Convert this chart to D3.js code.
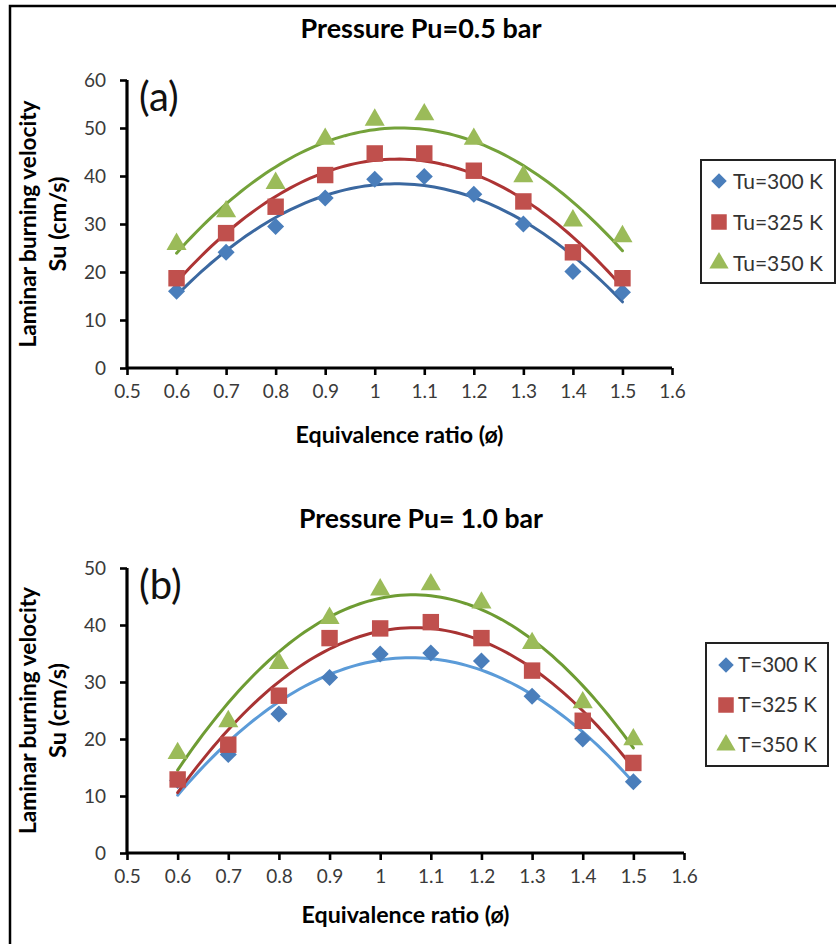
<!DOCTYPE html>
<html>
<head>
<meta charset="utf-8">
<script src="https://cdn.jsdelivr.net/npm/d3@7"></script>
<style>
  html, body { margin: 0; padding: 0; background: #fff; }
  svg { display: block; }
  text { font-family: Lato, "Open Sans", sans-serif; }
</style>
</head>
<body>
<svg id="chart" width="836" height="944"></svg>
<script>
// ---------- data ----------
const phi = [0.6, 0.7, 0.8, 0.9, 1.0, 1.1, 1.2, 1.3, 1.4, 1.5];
const xTicks = [0.5, 0.6, 0.7, 0.8, 0.9, 1, 1.1, 1.2, 1.3, 1.4, 1.5, 1.6];

// Panel (a): Pu = 0.5 bar
const titleA = "Pressure Pu=0.5 bar";
const yTicksA = [0, 10, 20, 30, 40, 50, 60];
const namesA = ["Tu=300 K", "Tu=325 K", "Tu=350 K"];
const a300 = [16.0, 24.1, 29.5, 35.4, 39.3, 39.9, 36.2, 30.0, 20.1, 15.8];
const a325 = [18.7, 28.1, 33.6, 40.2, 44.7, 44.7, 41.1, 34.7, 24.1, 18.7];
const a350 = [25.8, 32.6, 38.5, 47.7, 51.7, 52.8, 47.7, 39.9, 30.7, 27.4];

// Panel (b): Pu = 1.0 bar
const titleB = "Pressure Pu= 1.0 bar";
const yTicksB = [0, 10, 20, 30, 40, 50];
const namesB = ["T=300 K", "T=325 K", "T=350 K"];
const b300 = [12.7, 17.3, 24.4, 30.8, 34.9, 35.1, 33.7, 27.5, 20.0, 12.5];
const b325 = [12.9, 19.0, 27.6, 37.7, 39.4, 40.5, 37.7, 32.0, 23.2, 15.8];
const b350 = [17.5, 23.1, 33.3, 41.2, 46.2, 47.1, 43.9, 36.8, 26.4, 19.9];

const xLabel = "Equivalence ratio (ø)";
const yLabel1 = "Laminar burning velocity";
const yLabel2 = "Su (cm/s)";

// ---------- helpers ----------
const svg = d3.select("#chart");

// order-2 least squares polynomial (Excel-style trendline)
function polyFit2(xs, ys) {
  const n = xs.length;
  let s = [0,0,0,0,0], t = [0,0,0];
  for (let i = 0; i < n; i++) {
    const x = xs[i], y = ys[i];
    let p = 1;
    for (let k = 0; k <= 4; k++) { s[k] += p; if (k <= 2) t[k] += p * y; p *= x; }
  }
  const M = [[s[0], s[1], s[2], t[0]], [s[1], s[2], s[3], t[1]], [s[2], s[3], s[4], t[2]]];
  for (let i = 0; i < 3; i++) {
    for (let j = i + 1; j < 3; j++) {
      const f = M[j][i] / M[i][i];
      for (let k = i; k < 4; k++) M[j][k] -= f * M[i][k];
    }
  }
  const c = [0,0,0];
  for (let i = 2; i >= 0; i--) {
    let v = M[i][3];
    for (let k = i + 1; k < 3; k++) v -= M[i][k] * c[k];
    c[i] = v / M[i][i];
  }
  return x => c[0] + c[1] * x + c[2] * x * x;
}

function fitWidth(sel, target) {
  const node = sel.node();
  const fs = parseFloat(sel.attr("font-size"));
  const w = node.getComputedTextLength();
  if (w > 0) sel.attr("font-size", (fs * target / w).toFixed(2));
  return sel;
}

const markerColors = ["#4a7ebb", "#c0504d", "#9bbb59"];
const symbols = [d3.symbolSquare, d3.symbolSquare, d3.symbolTriangle];
const symSizes = [145, 270, 175];
const legSizes = [120, 240, 160];
const rotations = [45, 0, 0];

function panel(cfg) {
  const g = svg.append("g");
  const x = d3.scaleLinear().domain([0.5, 1.6]).range([cfg.x0, cfg.x1]);
  const y = d3.scaleLinear().domain([0, cfg.yMax]).range([cfg.yBot, cfg.yTop]);

  // title
  fitWidth(g.append("text")
    .attr("x", cfg.titleX).attr("y", cfg.titleY)
    .attr("text-anchor", "middle").attr("font-weight", "bold")
    .attr("font-size", 24).attr("fill", "#000")
    .text(cfg.title), cfg.titleW);

  // axes
  const xAxis = d3.axisBottom(x).tickValues(xTicks).tickSize(7).tickPadding(10)
    .tickFormat(d => String(+d.toFixed(1)));
  const gx = g.append("g").attr("transform", `translate(0,${cfg.yBot})`).call(xAxis);
  const yAxis = d3.axisLeft(y).tickValues(cfg.yTicks).tickSize(7).tickPadding(14);
  const gy = g.append("g").attr("transform", `translate(${cfg.x0},0)`).call(yAxis);
  [gx, gy].forEach(ax => {
    ax.select(".domain").attr("stroke", "#000").attr("stroke-width", 3.2);
    ax.selectAll(".tick line").attr("stroke", "#000").attr("stroke-width", 2.6);
    ax.selectAll(".tick text").attr("font-size", 19).attr("fill", "#3a3a3a")
      .attr("font-family", "Lato, sans-serif");
  });
  gx.select(".domain").attr("d", `M${cfg.x0},0H${cfg.x1}`);
  gx.selectAll(".tick text").attr("dy", "0.71em");
  gy.select(".domain").attr("d", `M0,${cfg.yTop}V${cfg.yBot}`);

  // axis titles
  fitWidth(g.append("text")
    .attr("x", (cfg.x0 + cfg.x1) / 2).attr("y", cfg.xTitleY)
    .attr("text-anchor", "middle").attr("font-weight", "bold")
    .attr("font-size", 18).text(xLabel), cfg.xTitleW);
  const yc = (cfg.yTop + cfg.yBot) / 2;
  fitWidth(g.append("text")
    .attr("transform", `translate(36,${yc}) rotate(-90)`)
    .attr("text-anchor", "middle").attr("font-weight", "bold")
    .attr("font-size", 18).text(yLabel1), 247);
  fitWidth(g.append("text")
    .attr("transform", `translate(66,${yc}) rotate(-90)`)
    .attr("text-anchor", "middle").attr("font-weight", "bold")
    .attr("font-size", 18).text(yLabel2), 95);

  // panel letter
  g.append("text")
    .attr("x", 139).attr("y", cfg.yTop + 31)
    .attr("font-size", 40).attr("fill", "#111")
    .text(cfg.letter);

  // trendlines
  const xs = d3.range(0.6, 1.5001, 0.01);
  cfg.series.forEach((s, i) => {
    const f = polyFit2(phi, s);
    const line = d3.line().x(d => x(d)).y(d => y(f(d)));
    g.append("path").attr("d", line(xs))
      .attr("fill", "none").attr("stroke", cfg.lineColors[i])
      .attr("stroke-width", 3).attr("stroke-linecap", "round");
  });

  // markers
  cfg.series.forEach((s, i) => {
    g.append("g").selectAll("path").data(s).join("path")
      .attr("d", d3.symbol().type(symbols[i]).size(symSizes[i]))
      .attr("transform", (d, j) => `translate(${x(phi[j])},${y(d)}) rotate(${rotations[i]})`)
      .attr("fill", markerColors[i]);
  });

  // legend
  const L = cfg.legend;
  g.append("rect").attr("x", L.x).attr("y", L.y).attr("width", L.w).attr("height", L.h)
    .attr("fill", "#fff").attr("stroke", "#222").attr("stroke-width", 2);
  cfg.names.forEach((nm, i) => {
    const cy = L.y + L.row0 + i * L.dy;
    g.append("path")
      .attr("d", d3.symbol().type(symbols[i]).size(legSizes[i]))
      .attr("transform", `translate(${L.mx},${cy}) rotate(${rotations[i]})`)
      .attr("fill", markerColors[i]);
    fitWidth(g.append("text").attr("x", L.tx).attr("y", cy).attr("dy", "0.36em")
      .attr("font-size", 20).attr("fill", "#333").text(nm), L.tw);
  });
}

// border (top & left)
svg.append("path").attr("d", "M10,944V6H836").attr("fill", "none")
  .attr("stroke", "#000").attr("stroke-width", 2.5);

panel({
  title: titleA, titleX: 421, titleY: 38, titleW: 241,
  x0: 127, x1: 672, yTop: 80, yBot: 368, yMax: 60, yTicks: yTicksA,
  xTitleY: 443, xTitleW: 208, letter: "(a)",
  series: [a300, a325, a350], names: namesA,
  lineColors: ["#3b68a0", "#ad3434", "#74a23a"],
  legend: { x: 701, y: 160, w: 134, h: 123, row0: 21, dy: 41, mx: 719, tx: 733, tw: 90 }
});

panel({
  title: titleB, titleX: 421, titleY: 528, titleW: 244,
  x0: 127, x1: 684, yTop: 568, yBot: 853, yMax: 50, yTicks: yTicksB,
  xTitleY: 923, xTitleW: 208, letter: "(b)",
  series: [b300, b325, b350], names: namesB,
  lineColors: ["#5b9bd8", "#a83333", "#6e9c33"],
  legend: { x: 706, y: 643, w: 122, h: 123, row0: 22, dy: 40, mx: 726, tx: 738, tw: 79 }
});
</script>
</body>
</html>
